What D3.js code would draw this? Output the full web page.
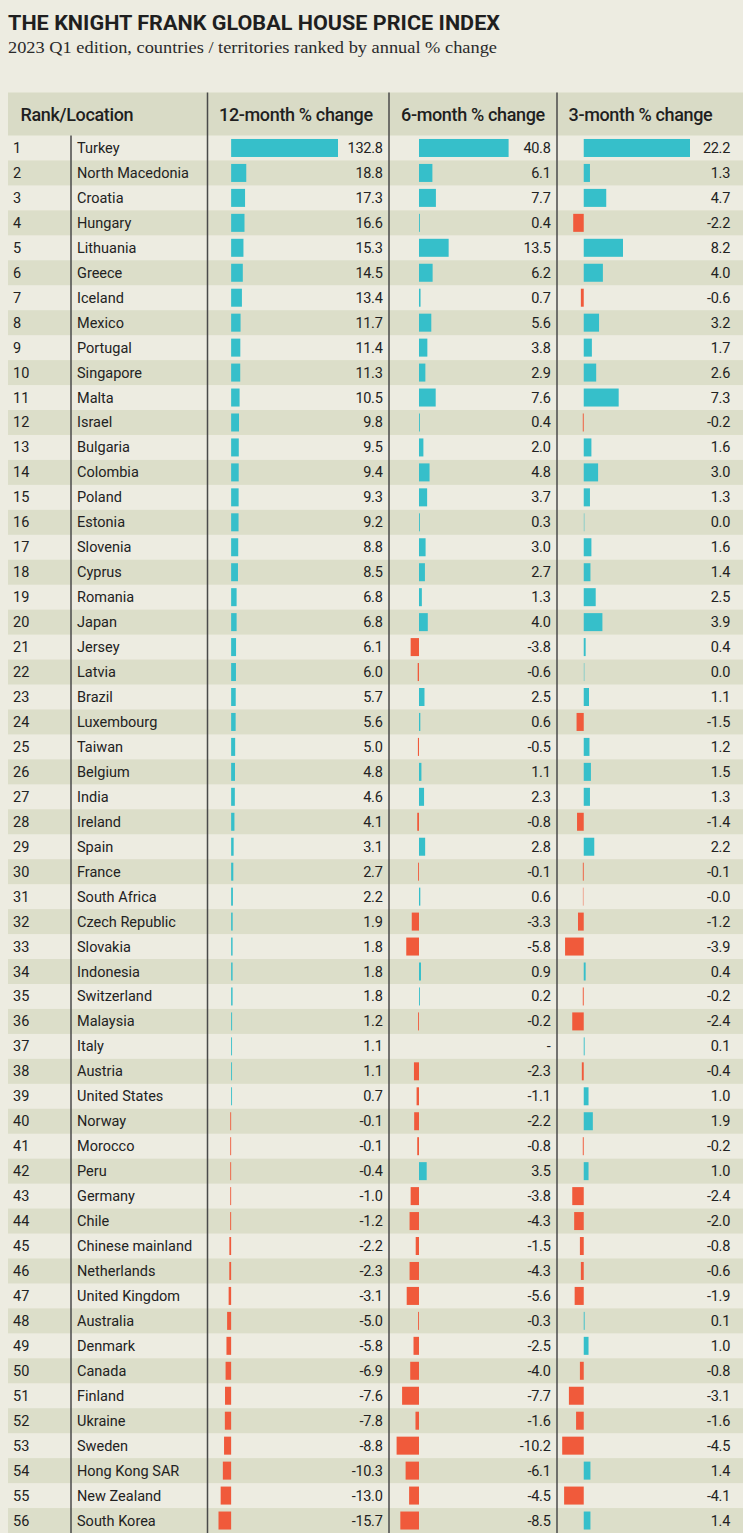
<!DOCTYPE html>
<html><head><meta charset="utf-8">
<script src="https://cdn.jsdelivr.net/npm/d3@7/dist/d3.min.js"></script>
<style>
html,body{margin:0;padding:0;background:#edece1;}
svg{display:block;}
</style></head>
<body>
<svg id="chart" width="743" height="1533"></svg>
<script>
const locations = ["Turkey","North Macedonia","Croatia","Hungary","Lithuania","Greece","Iceland","Mexico","Portugal","Singapore","Malta","Israel","Bulgaria","Colombia","Poland","Estonia","Slovenia","Cyprus","Romania","Japan","Jersey","Latvia","Brazil","Luxembourg","Taiwan","Belgium","India","Ireland","Spain","France","South Africa","Czech Republic","Slovakia","Indonesia","Switzerland","Malaysia","Italy","Austria","United States","Norway","Morocco","Peru","Germany","Chile","Chinese mainland","Netherlands","United Kingdom","Australia","Denmark","Canada","Finland","Ukraine","Sweden","Hong Kong SAR","New Zealand","South Korea"];
const change12 = [132.8,18.8,17.3,16.6,15.3,14.5,13.4,11.7,11.4,11.3,10.5,9.8,9.5,9.4,9.3,9.2,8.8,8.5,6.8,6.8,6.1,6.0,5.7,5.6,5.0,4.8,4.6,4.1,3.1,2.7,2.2,1.9,1.8,1.8,1.8,1.2,1.1,1.1,0.7,-0.1,-0.1,-0.4,-1.0,-1.2,-2.2,-2.3,-3.1,-5.0,-5.8,-6.9,-7.6,-7.8,-8.8,-10.3,-13.0,-15.7];
const change6 = [40.8,6.1,7.7,0.4,13.5,6.2,0.7,5.6,3.8,2.9,7.6,0.4,2.0,4.8,3.7,0.3,3.0,2.7,1.3,4.0,-3.8,-0.6,2.5,0.6,-0.5,1.1,2.3,-0.8,2.8,-0.1,0.6,-3.3,-5.8,0.9,0.2,-0.2,null,-2.3,-1.1,-2.2,-0.8,3.5,-3.8,-4.3,-1.5,-4.3,-5.6,-0.3,-2.5,-4.0,-7.7,-1.6,-10.2,-6.1,-4.5,-8.5];
const change3 = [22.2,1.3,4.7,-2.2,8.2,4.0,-0.6,3.2,1.7,2.6,7.3,-0.2,1.6,3.0,1.3,0.0,1.6,1.4,2.5,3.9,0.4,0.0,1.1,-1.5,1.2,1.5,1.3,-1.4,2.2,-0.1,-0,-1.2,-3.9,0.4,-0.2,-2.4,0.1,-0.4,1.0,1.9,-0.2,1.0,-2.4,-2.0,-0.8,-0.6,-1.9,0.1,1.0,-0.8,-3.1,-1.6,-4.5,1.4,-4.1,1.4];
const columnHeaders = ["Rank/Location","12-month % change","6-month % change","3-month % change"];
const titleText = "THE KNIGHT FRANK GLOBAL HOUSE PRICE INDEX";
const subtitleText = "2023 Q1 edition, countries / territories ranked by annual % change";

const svg = d3.select("#chart");
const W = 743, H = 1533;
const tableLeft = 8, headTop = 92.5, headBot = 135.5;
const rowH = (H - headBot) / locations.length;
const POS = "#36bfca", NEG = "#f05a3b", TXT = "#222";
const FONT = "Roboto, 'Noto Sans', sans-serif";

svg.append("rect").attr("width",W).attr("height",H).attr("fill","#edece1");

svg.append("text").attr("x",8).attr("y",30).text(titleText)
  .attr("font-family",FONT).attr("font-weight",700).attr("font-size",20.5)
  .attr("textLength",492).attr("lengthAdjust","spacingAndGlyphs").attr("fill","#1f1f1f");
svg.append("text").attr("x",8).attr("y",53).text(subtitleText)
  .attr("font-family","'Liberation Serif', 'DejaVu Serif', serif").attr("font-size",17)
  .attr("textLength",489).attr("lengthAdjust","spacingAndGlyphs").attr("fill","#2a2a2a");

const rows = locations.map((loc,i)=>({rank:i+1, loc, v12:change12[i], v6:change6[i], v3:change3[i]}));

const y = d3.scaleBand().domain(rows.map(d=>d.rank)).range([headBot, headBot + rowH*rows.length]).paddingInner(0).paddingOuter(0);

// header band
svg.append("rect").attr("x",tableLeft).attr("y",headTop).attr("width",W-tableLeft).attr("height",headBot-headTop).attr("fill","#d9dbc6");

// stripes
svg.append("g").selectAll("rect").data(rows.filter(d=>d.rank%2===0)).join("rect")
  .attr("x",tableLeft).attr("y",d=>y(d.rank)).attr("width",W-tableLeft).attr("height",y.bandwidth())
  .attr("fill","#dcdec9");

// column definitions
const cols = [
  {key:"v12", scale:d3.scaleLinear().domain([-15.7,132.8]).range([218.5,338]), labelX:382.5, headX:219},
  {key:"v6",  scale:d3.scaleLinear().domain([-10.2,40.8]).range([396.6,508.6]), labelX:550.5, headX:401},
  {key:"v3",  scale:d3.scaleLinear().domain([-4.5,22.2]).range([562.2,690]), labelX:730, headX:568.5}
];
const barH = 18;
const isNeg = v => v < 0 || Object.is(v,-0);
const fmt = v => v === null ? "-" : (isNeg(v) ? "-" : "") + Math.abs(v).toFixed(1);

cols.forEach(c=>{
  const g = svg.append("g");
  const x0 = c.scale(0);
  const w = v => Math.max(Math.abs(c.scale(v)-x0),0.9);
  g.selectAll("rect").data(rows.filter(d=>d[c.key]!==null)).join("rect")
    .attr("x",d=>isNeg(d[c.key]) ? x0-w(d[c.key]) : x0)
    .attr("y",d=>y(d.rank)+(y.bandwidth()-barH)/2)
    .attr("width",d=>w(d[c.key]))
    .attr("height",barH)
    .attr("fill",d=>isNeg(d[c.key])?NEG:POS)
    .attr("opacity",d=>d[c.key]===0?0.5:1);
  g.selectAll("text").data(rows).join("text")
    .attr("x",c.labelX).attr("y",d=>y(d.rank)+y.bandwidth()/2+5)
    .attr("text-anchor","end").text(d=>fmt(d[c.key]))
    .attr("font-family",FONT).attr("font-size",14.5).attr("fill",TXT).attr("letter-spacing",-0.3);
});

// rank and location text
const lg = svg.append("g").attr("font-family",FONT).attr("font-size",14.5).attr("fill",TXT);
lg.selectAll("text.rank").data(rows).join("text").attr("class","rank")
  .attr("x",13).attr("y",d=>y(d.rank)+y.bandwidth()/2+5).text(d=>d.rank);
lg.selectAll("text.loc").data(rows).join("text").attr("class","loc")
  .attr("x",77).attr("y",d=>y(d.rank)+y.bandwidth()/2+5).text(d=>d.loc);

// headers
const hy = (headTop+headBot)/2 + 6.5;
const hx = [20.5, cols[0].headX, cols[1].headX, cols[2].headX];
svg.append("g").selectAll("text").data(columnHeaders).join("text")
  .attr("x",(d,i)=>hx[i]).attr("y",hy).text(d=>d)
  .attr("font-family",FONT).attr("font-weight",500).attr("font-size",18)
  .attr("letter-spacing",-0.35).attr("fill","#1f1f1f");

// dividers
const lineC = "#4a4a4a";
[207.5, 389, 557].forEach(x=>{
  svg.append("line").attr("x1",x).attr("x2",x).attr("y1",headTop).attr("y2",H).attr("stroke",lineC).attr("stroke-width",1.5);
});
svg.append("line").attr("x1",71).attr("x2",71).attr("y1",headBot).attr("y2",H).attr("stroke",lineC).attr("stroke-width",1.5);
</script>
</body></html>
